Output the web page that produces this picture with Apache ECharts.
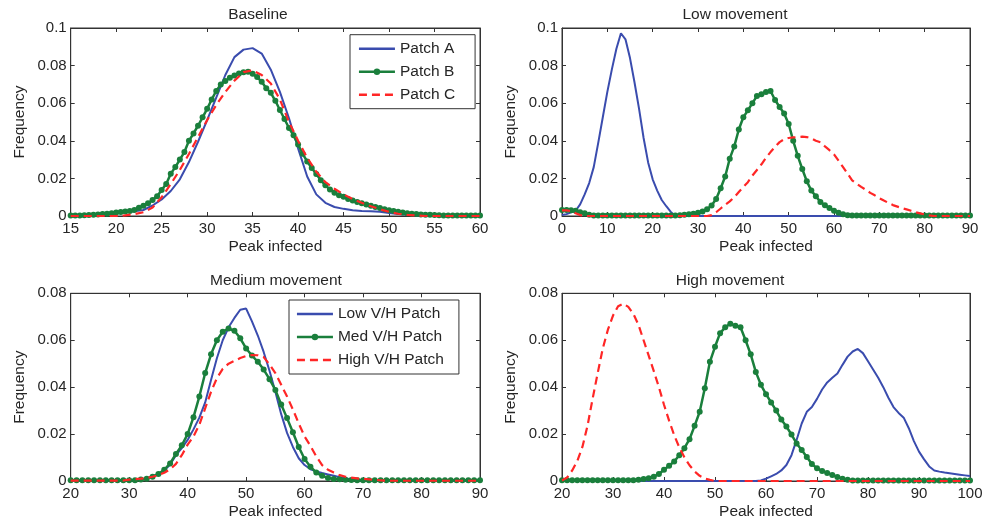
<!DOCTYPE html>
<html>
<head>
<meta charset="utf-8">
<script src="https://cdn.jsdelivr.net/npm/echarts@6/dist/echarts.min.js"></script>
<style>
html,body{margin:0;padding:0;background:#fff;}
#chart{width:987px;height:527px;}
</style>
</head>
<body>
<div id="chart"></div>
<script>
// ---------- DATA ----------
// x grids (peak infected)
function range(a, b, s) { const r = []; for (let v = a; v <= b + 1e-9; v += s) r.push(Math.round(v * 10) / 10); return r; }
const baseX = range(15, 60, 1);       // Baseline, Patch A & C
const baseXB = range(15, 60, 0.5);    // Baseline, Patch B (markers)
const lowX = range(0, 90, 1);         // Low movement
const medX = range(20, 90, 1);        // Medium movement
const highX = range(20, 100, 1);      // High movement

// Baseline
const basePatchA = [0,0,0.0003,0.0005,0.001,0.0015,0.002,0.0025,0.0032,0.0056,
  0.0088,0.0133,0.0195,0.0287,0.0395,0.051,0.063,0.075,0.0845,0.0885,
  0.0893,0.0864,0.0778,0.066,0.052,0.036,0.021,0.0115,0.007,0.0048,
  0.0038,0.003,0.0026,0.0025,0.0022,0.0016,0.001,0.0006,0.0003,
  0,0,0,0,0,0,0];
const basePatchB = [
  0.0003,0.0003,0.0003,0.0004,0.0005,0.0006,0.0008,0.001,0.0012,0.0015,0.0018,0.0021,0.0024,0.0027,0.0032, // 15..22
  0.0044,0.0055,0.0068,0.0085,0.0105,0.0138,0.017,0.0225,0.026,0.030,0.034,0.040,0.0439,0.048,0.0525,0.057, // 22.5..30
  0.062,0.0665,0.070,0.0718,0.0735,0.0748,0.0758,0.0765,0.0767,0.0756,0.0739,0.0714,0.068,0.0655,0.0613,0.0564, // 30.5..38
  0.0516,0.0468,0.0429,0.038,0.0331,0.029,0.0255,0.0223,0.019,0.0163,0.0141,0.0124,0.011,0.0102,0.009, // 38.5..45.5
  0.0082,0.0075,0.0068,0.0061,0.0055,0.0048,0.0042,0.0036,0.0031,0.0026,0.0022,0.0018,0.0015,0.0012,0.001, // 46..53
  0.0008,0.0007,0.0006,0.0005,0.0004,0.0003,0.0002,0.0002,0.0002,0.0002,0.0002,0.0002,0.0002,0.0002 // 53.5..60
];
const basePatchC = [0,0,0,0,0,0,0.0003,0.001,0.002,0.0045,
  0.010,0.017,0.0245,0.033,0.042,0.051,0.059,0.066,0.072,0.0765,
  0.0775,0.075,0.0705,0.062,0.050,0.040,0.031,0.0235,0.018,0.0145,
  0.0115,0.009,0.007,0.0052,0.0036,0.0022,0.0012,0.0006,0.0003,
  0,0,0,0,0,0,0];

// Low movement
const lowPatchA = [0.0005,0.001,0.002,0.0028,0.0062,0.0115,0.0175,0.026,0.039,0.0525,
  0.066,0.078,0.089,0.0972,0.094,0.084,0.071,0.057,0.0415,0.0285,
  0.0195,0.0135,0.0085,0.0052,0.0022,0,0,0,0,0,
  0,0,0,0,0,0,0,0,0,0, 0,0,0,0,0,0,0,0,0,0, 0,0,0,0,0,0,0,0,0,0,
  0,0,0,0,0,0,0,0,0,0, 0,0,0,0,0,0,0,0,0,0, 0,0,0,0,0,0,0,0,0,0, 0];
const lowPatchB = [0.0032,0.0032,0.003,0.0028,0.002,0.0014,0.0007,0.0003,
  0.0002,0.0002,0.0002,0.0002,0.0002,0.0002,0.0002,0.0002,0.0002,0.0002,0.0002,0.0002,0.0002,0.0002,0.0002,0.0002,0.0002,0.0002,
  0.0004,0.0006,0.0009,0.0012,0.0017,0.0024,0.0036,0.0056,0.009,0.0148,
  0.021,0.0305,0.037,0.046,0.0525,0.0562,0.060,0.0638,0.0648,0.066,
  0.0665,0.0617,0.058,0.0545,0.049,0.040,0.032,0.025,0.0185,0.0135,
  0.0105,0.0075,0.0057,0.0042,0.0028,0.0017,0.0009,0.0004,
  0.0002,0.0002,0.0002,0.0002,0.0002,0.0002,0.0002,0.0002,0.0002,0.0002,0.0002,0.0002,0.0002,0.0002,
  0.0002,0.0002,0.0002,0.0002,0.0002,0.0002,0.0002,0.0002,0.0002,0.0002,0.0002,0.0002,0.0002];
const lowPatchC = [0.003,0.003,0.0027,0.0015,0.0005,
  0,0,0,0,0,0,0,0,0,0,0,0,0,0,0,0,0,0,0,0,0,0,0,0,0,0,0,0,
  0.0005,0.002,0.004,0.006,0.0078,0.010,0.0128,0.0155,0.018,0.0215,
  0.0245,0.0275,0.031,0.034,0.0368,0.0393,0.0408,0.0415,0.0418,0.042,
  0.0422,0.042,0.0413,0.040,0.0392,0.037,0.035,0.0328,0.0295,0.026,
  0.0225,0.019,0.0172,0.0155,0.014,0.0123,0.011,0.0095,0.0082,0.007,
  0.0058,0.005,0.0042,0.0035,0.0028,0.002,0.0014,0.0008,0.0003,
  0,0,0,0,0,0,0,0,0];

// Medium movement
const medLow = [0,0,0,0,0,0,0,0,0,0,
  0.0003,0.0005,0.0007,0.001,0.002,0.003,0.0045,0.007,0.011,0.014,
  0.0175,0.022,0.027,0.0335,0.043,0.0523,0.060,0.0655,0.0695,0.073,
  0.0735,0.068,0.062,0.055,0.047,0.038,0.0285,0.0205,0.0145,0.0097,
  0.0068,0.005,0.0041,0.0034,0.0028,0.0022,0.0016,0.0011,0.0007,0.0004,
  0,0,0,0,0,0,0,0,0,0,0,0,0,0,0,0,0,0,0,0,0];
const medMed = [0.0003,0.0003,0.0003,0.0003,0.0003,0.0003,0.0003,0.0003,0.0003,0.0003,0.0003,0.0003,
  0.0006,0.001,0.0018,0.003,0.0048,0.0075,0.0115,0.0152,0.020,0.0272,
  0.036,0.046,0.054,0.060,0.0636,0.065,0.064,0.0608,0.0565,0.0535,
  0.0508,0.0475,0.0434,0.0388,0.0326,0.0268,0.0208,0.0145,0.0094,0.0061,
  0.0036,0.0022,0.0013,0.0009,0.0007,0.0005,0.0004,
  0.0003,0.0003,0.0003,0.0003,0.0003,0.0003,0.0003,0.0003,0.0003,0.0003,0.0003,
  0.0003,0.0003,0.0003,0.0003,0.0003,0.0003,0.0003,0.0003,0.0003,0.0003,0.0003];
const medHigh = [0.0002,0.0002,0.0002,0.0002,0.0002,0.0002,0.0002,0.0002,0.0002,0.0002,
  0.0006,0.0008,0.001,0.0013,0.0018,0.0025,0.0035,0.005,0.0073,0.011,
  0.0155,0.019,0.024,0.031,0.038,0.0438,0.0478,0.050,0.0512,0.0524,
  0.0533,0.0537,0.0536,0.0528,0.0497,0.046,0.041,0.036,0.0305,0.0245,
  0.019,0.015,0.0105,0.0068,0.0048,0.0036,0.0025,0.0018,0.0014,0.0011,
  0.0009,0.0007,0.0005,0.0003,
  0.0001,0.0001,0.0001,0.0001,0.0001,0.0001,0.0001,0.0001,0.0001,0.0001,
  0.0001,0.0001,0.0001,0.0001,0.0001,0.0001,0.0001];

// High movement
const highLow = [0,0,0,0,0,0,0,0,0,0, 0,0,0,0,0,0,0,0,0,0, 0,0,0,0,0,0,0,0,0,0, 0,0,0,0,0,0,0,0,0,
  0.0002,0.001,0.002,0.003,0.0045,0.0068,0.011,0.0175,0.0245,0.0295,
  0.0315,0.035,0.039,0.042,0.044,0.0458,0.0495,0.053,0.0552,0.0563,
  0.0545,0.051,0.0475,0.044,0.040,0.0355,0.0315,0.029,0.027,0.0225,
  0.017,0.0125,0.0092,0.0062,0.0045,0.004,0.0036,0.0033,0.003,0.0027,
  0.0024,0.0021];
const highMed = [0.0003,0.0003,0.0003,0.0003,0.0003,0.0003,0.0003,0.0003,0.0003,0.0003,0.0003,0.0003,0.0003,0.0003,0.0003,
  0.0005,0.0008,0.0012,0.0018,0.003,0.0048,0.0065,0.0083,0.011,0.014,
  0.0178,0.0235,0.0295,0.0395,0.0508,0.0572,0.063,0.0655,0.067,0.0662,
  0.0655,0.060,0.054,0.0465,0.041,0.037,0.0335,0.030,0.0262,0.0232,
  0.0198,0.016,0.0132,0.0102,0.0072,0.0054,0.0043,0.0034,0.0026,0.0017,
  0.001,0.0005,
  0.0002,0.0002,0.0002,0.0002,0.0002,0.0002,0.0002,0.0002,0.0002,0.0002,0.0002,0.0002,
  0.0002,0.0002,0.0002,0.0002,0.0002,0.0002,0.0002,0.0002,0.0002,0.0002,0.0002,0.0002];
const highHigh = [0.0002,0.0015,0.0045,0.0085,0.0145,0.0235,0.035,0.046,0.0565,0.0645,
  0.0705,0.0745,0.0756,0.0742,0.0712,0.0665,0.060,0.0534,0.0468,0.040,
  0.0325,0.0257,0.0195,0.0143,0.0101,0.0067,0.0041,0.0022,0.0011,0.0005,
  0,0,0,0,0,0,0,0,0,0, 0,0,0,0,0,0,0,0,0,0, 0,0,0,0,0,0,0,0,0,0,
  0,0,0,0,0,0,0,0,0,0, 0,0,0,0,0,0,0,0,0,0, 0];

const titles = ['Baseline', 'Low movement', 'Medium movement', 'High movement'];
const legend1 = ['Patch A', 'Patch B', 'Patch C'];
const legend2 = ['Low V/H Patch', 'Med V/H Patch', 'High V/H Patch'];
const xLabel = 'Peak infected';
const yLabel = 'Frequency';

// ---------- CHART ----------
const FONT = '"Liberation Sans", Arial, Helvetica, sans-serif';
const TXT = '#262626';
const AX = '#333333';
const BLUE = '#3a4cae';
const GREEN = '#1a7f3c';
const RED = '#ff2626';

const grids = [
  { left: 70.7, top: 28, width: 409.3, height: 188 },
  { left: 562, top: 28, width: 408, height: 188 },
  { left: 70.7, top: 293.3, width: 409.3, height: 187.7 },
  { left: 562, top: 293.3, width: 408, height: 187.7 }
];
const xRanges = [[15, 60, 5], [0, 90, 10], [20, 90, 10], [20, 100, 10]];
const yRanges = [[0, 0.1], [0, 0.1], [0, 0.08], [0, 0.08]];
const titlePos = [[258, 7], [735, 7], [276, 272.5], [730, 272.5]];

const zip = (xs, ys) => xs.map((x, i) => [x, ys[i]]);

const xAxes = [], yAxes = [];
grids.forEach((g, i) => {
  const [mn, mx, iv] = xRanges[i];
  const common = {
    type: 'value', gridIndex: i, min: mn, max: mx, interval: iv,
    axisLine: { show: true, onZero: false, lineStyle: { color: AX, width: 1 } },
    axisTick: { show: true, inside: true, length: 4, lineStyle: { color: AX } },
    splitLine: { show: false }
  };
  xAxes.push(Object.assign({}, common, {
    position: 'bottom',
    axisLabel: { show: true, margin: 5, fontSize: 15, color: TXT, fontFamily: FONT, showMinLabel: true, showMaxLabel: true },
    name: xLabel, nameLocation: 'middle', nameGap: 23,
    nameTextStyle: { fontSize: 15.5, color: TXT, fontFamily: FONT }
  }));
  xAxes.push(Object.assign({}, common, { position: 'top', axisLabel: { show: false } }));
  const [ymn, ymx] = yRanges[i];
  const ycommon = {
    type: 'value', gridIndex: i, min: ymn, max: ymx, interval: 0.02,
    axisLine: { show: true, onZero: false, lineStyle: { color: AX, width: 1 } },
    axisTick: { show: true, inside: true, length: 4, lineStyle: { color: AX } },
    splitLine: { show: false }
  };
  yAxes.push(Object.assign({}, ycommon, {
    position: 'left',
    axisLabel: { show: true, margin: 4, fontSize: 15, color: TXT, fontFamily: FONT, showMinLabel: true, showMaxLabel: true },
    name: yLabel, nameLocation: 'middle', nameGap: 43, nameRotate: 90,
    nameTextStyle: { fontSize: 15.5, color: TXT, fontFamily: FONT }
  }));
  yAxes.push(Object.assign({}, ycommon, { position: 'right', axisLabel: { show: false } }));
});

function blueS(name, gi, xs, ys) {
  return { name, type: 'line', xAxisIndex: gi * 2, yAxisIndex: gi * 2, data: zip(xs, ys),
    symbol: 'none', lineStyle: { color: BLUE, width: 2 }, itemStyle: { color: BLUE }, z: 2 };
}
function greenS(name, gi, xs, ys) {
  return { name, type: 'line', xAxisIndex: gi * 2, yAxisIndex: gi * 2, data: zip(xs, ys),
    symbol: 'circle', symbolSize: 6, showSymbol: true,
    lineStyle: { color: GREEN, width: 2.5 }, itemStyle: { color: GREEN }, z: 3 };
}
function redS(name, gi, xs, ys) {
  return { name, type: 'line', xAxisIndex: gi * 2, yAxisIndex: gi * 2, data: zip(xs, ys),
    symbol: 'none', lineStyle: { color: RED, width: 2.2, type: [8, 5] }, itemStyle: { color: RED }, z: 4 };
}

const series = [
  blueS(legend1[0], 0, baseX, basePatchA),
  greenS(legend1[1], 0, baseXB, basePatchB),
  redS(legend1[2], 0, baseX, basePatchC),
  blueS(legend1[0], 1, lowX, lowPatchA),
  greenS(legend1[1], 1, lowX, lowPatchB),
  redS(legend1[2], 1, lowX, lowPatchC),
  blueS(legend2[0], 2, medX, medLow),
  greenS(legend2[1], 2, medX, medMed),
  redS(legend2[2], 2, medX, medHigh),
  blueS(legend2[0], 3, highX, highLow),
  greenS(legend2[1], 3, highX, highMed),
  redS(legend2[2], 3, highX, highHigh)
];

const noMark = { color: 'rgba(0,0,0,0)', borderWidth: 0, opacity: 0 };
const legendItems = names => [
  { name: names[0], itemStyle: noMark, lineStyle: { width: 2.5 } },
  { name: names[1], lineStyle: { width: 2.5 } },
  { name: names[2], itemStyle: noMark, lineStyle: { width: 2.5, type: [8, 5] } }
];

const legendCommon = {
  orient: 'vertical', itemWidth: 36, itemHeight: 8, itemGap: 7,
  borderColor: AX, borderWidth: 1, backgroundColor: '#fff',
  textStyle: { fontSize: 15.5, color: TXT, fontFamily: FONT },
  selectedMode: false
};

const option = {
  animation: false,
  backgroundColor: '#fff',
  title: titles.map((t, i) => ({
    text: t, left: titlePos[i][0], top: titlePos[i][1], textAlign: 'center', padding: 0,
    textStyle: { fontSize: 15.5, fontWeight: 'normal', color: TXT, fontFamily: FONT }
  })),
  grid: grids.map(g => Object.assign({ show: true, borderColor: AX, borderWidth: 1, backgroundColor: 'transparent', containLabel: false }, g)),
  xAxis: xAxes,
  yAxis: yAxes,
  legend: [
    Object.assign({}, legendCommon, { data: legendItems(legend1), left: 350, top: 34.7, padding: [6, 20, 6, 7.7] }),
    Object.assign({}, legendCommon, { data: legendItems(legend2), left: 289, top: 300, padding: [6, 15, 6, 6.7] })
  ],
  series
};

const chart = echarts.init(document.getElementById('chart'), null, { renderer: 'canvas' });
chart.setOption(option);
</script>
</body>
</html>
